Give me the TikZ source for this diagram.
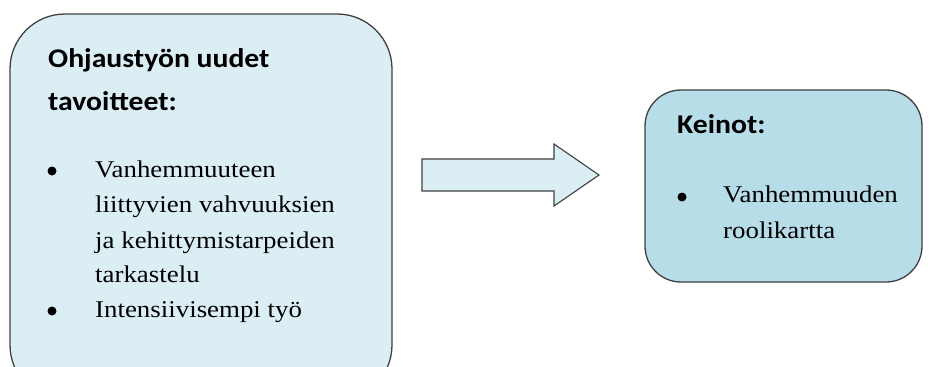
\documentclass[tikz,border=0pt]{standalone}
\usepackage{fontspec}
\usetikzlibrary{calc}
\setmainfont[FakeStretch=1.12]{Liberation Serif}
\newfontfamily\headfont[FakeStretch=1.1]{Carlito}
\begin{document}
\begin{tikzpicture}[x=1pt,y=-1pt,
  panel/.style={draw=black!75, line width=1.3pt, rounded corners=#1},
  heading/.style={anchor=base west, inner sep=0pt, font=\headfont\bfseries\fontsize{27}{30}\selectfont},
  body/.style={anchor=base west, inner sep=0pt, font=\fontsize{24}{28}\selectfont},
  dot/.style={circle, fill=black, inner sep=0pt, minimum size=9pt}]
\definecolor{paleblue}{HTML}{DBEEF4}
\definecolor{midblue}{HTML}{B7DDE8}
\clip (0,0) rectangle (938,367);
% left panel: goals (runs past the lower edge)
\draw[panel=55pt, fill=paleblue] (10,14) rectangle (392,400);
\node[heading] (g1) at (48,67) {Ohjaustyön uudet};
\node[heading] (g2) at (48,110) {tavoitteet:};
\node[dot] (b1) at (52,171) {};
\node[body] (l1) at (95,177) {Vanhemmuuteen};
\node[body] (l2) at (95,212) {liittyvien vahvuuksien};
\node[body] (l3) at (95,248) {ja kehittymistarpeiden};
\node[body] (l4) at (95,282) {tarkastelu};
\node[dot] (b2) at (52,311) {};
\node[body] (l5) at (95,317) {Intensiivisempi työ};
% block arrow
\coordinate (ta) at (422,175);
\draw[draw=black!75, line width=1.1pt, fill=paleblue, line join=miter]
  ($(ta)+(0,-16)$) -- ++(132,0) -- ++(0,-15) -- (599,175) -- (554,206) -- ++(0,-15) -- ($(ta)+(0,16)$) -- cycle;
% right panel: means
\draw[panel=36pt, fill=midblue] (645,90) rectangle (922,282);
\node[heading] (k1) at (677,133) {Keinot:};
\node[dot] (b3) at (682,197) {};
\node[body] (r1) at (723,202) {Vanhemmuuden};
\node[body] (r2) at (723,238) {roolikartta};
\end{tikzpicture}
\end{document}
